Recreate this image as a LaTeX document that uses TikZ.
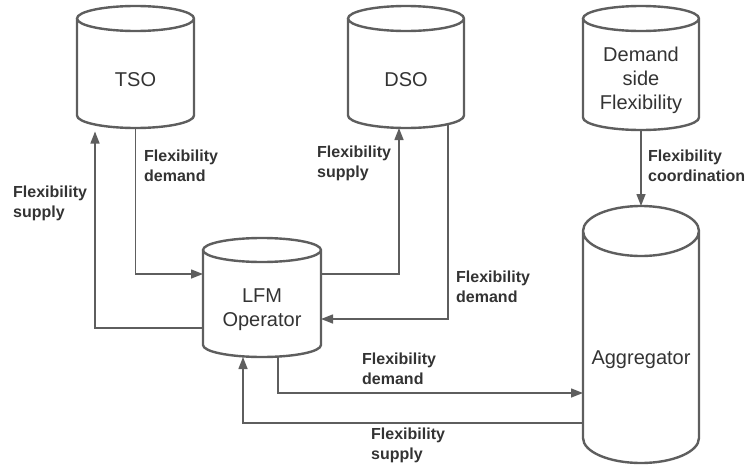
\documentclass[tikz,border=0pt]{standalone}
\usepackage{fontspec}
\setmainfont{Liberation Sans}
\usepackage{xcolor}
\usetikzlibrary{arrows.meta,calc}

\definecolor{linegray}{HTML}{5E5E5E}
\definecolor{textgray}{HTML}{333333}

\tikzset{
  store/.style={inner sep=0pt, outer sep=0pt, align=center, text=textgray,
    font=\fontsize{20}{24}\selectfont},
  drumline/.style={draw=linegray, line width=2.4pt},
  flow/.style={draw=linegray, line width=1.4pt, -{Triangle[length=12pt,width=9pt]}},
  plain/.style={draw=linegray, line width=1.4pt},
  tag/.style={anchor=west, inner sep=0pt, align=left, text=textgray,
    font=\fontsize{16}{20}\selectfont\bfseries}
}

% cylinder outline round the body node #1, end ellipse half height #2
\newcommand{\drum}[2]{%
  \draw[drumline] let \p1=($(#1.north east)-(#1.north west)$), \n1={0.5*\x1} in
    ([yshift=#2pt]#1.north west) -- ([yshift=#2pt]#1.south west)
    arc[start angle=180, end angle=360, x radius=\n1, y radius=#2pt]
    -- ([yshift=#2pt]#1.north east)
    arc[start angle=0, end angle=360, x radius=\n1, y radius=#2pt];
}

\begin{document}
\begin{tikzpicture}[x=1pt,y=1pt]
\useasboundingbox (0,0) rectangle (748,-466);

% stores
\node[store, minimum width=117pt, minimum height=97pt] (tso) at (135.5,-79.5) {TSO};
\node[store, minimum width=116pt, minimum height=97pt] (dso) at (406,-79.5) {DSO};
\node[store, minimum width=116pt, minimum height=99pt] (dsf) at (641,-80.5) {Demand\\side\\Flexibility};
\node[store, minimum width=118pt, minimum height=95pt] (lfm) at (262,-309.5) {LFM\\Operator};
\node[store, minimum width=116pt, minimum height=207pt] (agg) at (641,-359.5) {Aggregator};

\drum{tso}{12.5}
\drum{dso}{12.5}
\drum{dsf}{12.5}
\drum{lfm}{12}
\drum{agg}{25}

\coordinate (aggtop) at ([yshift=50pt]agg.north);

% flows
\draw[flow, shorten >=3.5pt] ([yshift=-18.5pt]lfm.west) -| ([xshift=-40.5pt]tso.south);
\draw[flow] (tso.south) |- ([yshift=35.5pt]lfm.west);
\draw[flow] ([yshift=35.5pt]lfm.east) -| ([xshift=-7pt]dso.south);
\draw[flow, shorten <=-3.9pt] ([xshift=42pt]dso.south) |- ([yshift=-9.5pt]lfm.east);
\draw[flow] (dsf.south) -- (aggtop);
\draw[flow] ([xshift=16pt]lfm.south) |- ([yshift=-33.5pt]agg.west);
\draw[flow] ([yshift=-63.5pt]agg.west) -| ([xshift=-19pt]lfm.south);

% labels
\node[tag] (tsosupply) at (13,-203) {Flexibility\\supply};
\node[tag] (tsodemand) at (144,-166) {Flexibility\\demand};
\node[tag] (dsosupply) at (317,-163.5) {Flexibility\\supply};
\node[tag] (dsodemand) at (456,-287) {Flexibility\\demand};
\node[tag] (coord) at (648,-166) {Flexibility\\coordination};
\node[tag] (aggdemand) at (362,-368.5) {Flexibility\\demand};
\node[tag] (aggsupply) at (371,-445) {Flexibility\\supply};
\end{tikzpicture}
\end{document}
